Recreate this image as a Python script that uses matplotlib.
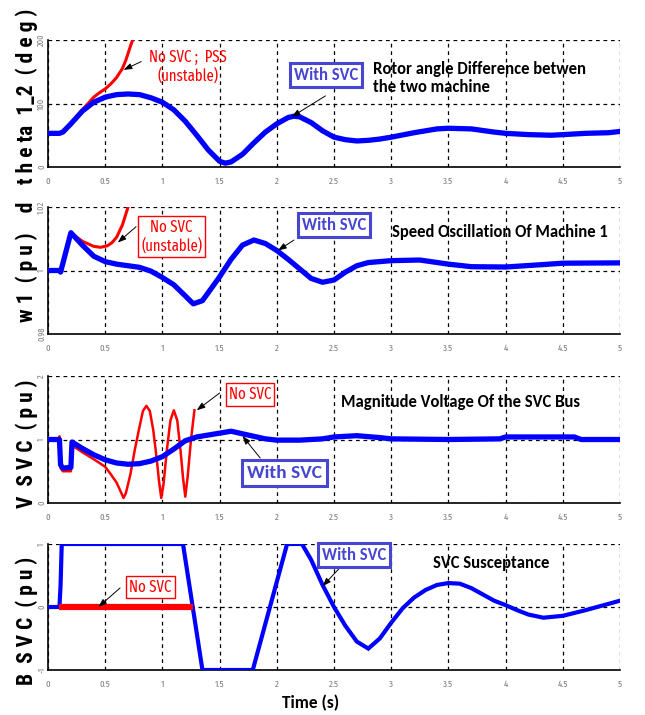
import matplotlib
matplotlib.use("Agg")
import matplotlib.pyplot as plt

# ---------------- data ----------------
# Panel 1: rotor angle difference (deg)
t_theta_svc = [0, 0.1, 0.13, 0.2, 0.3, 0.4, 0.5, 0.6, 0.7, 0.8, 0.9, 1.0, 1.1, 1.2, 1.3, 1.4, 1.5, 1.55,
               1.6, 1.7, 1.8, 1.9, 2.0, 2.1, 2.15, 2.2, 2.3, 2.4, 2.5, 2.6, 2.7, 2.8, 2.9, 3.0, 3.2, 3.4,
               3.5, 3.7, 3.9, 4.0, 4.2, 4.4, 4.5, 4.7, 4.9, 5.0]
theta_svc = [53, 53, 55, 68, 88, 102, 110, 114, 115, 114, 109, 102, 90, 72, 50, 27, 9, 6,
             8, 20, 38, 55, 68, 78, 80, 79, 70, 57, 47, 43, 41, 42, 44, 47, 54, 60,
             61, 60, 55, 53, 51, 50, 51, 53, 54, 56]
t_theta_nosvc = [0.25, 0.3, 0.35, 0.4, 0.45, 0.5, 0.55, 0.6, 0.65, 0.68, 0.72, 0.74]
theta_nosvc = [78, 90, 100, 110, 117, 123, 131, 141, 155, 168, 190, 200]

# Panel 2: speed of machine 1 (pu)
t_w_svc = [0, 0.1, 0.11, 0.2, 0.3, 0.4, 0.5, 0.6, 0.7, 0.8, 0.9, 1.0, 1.1, 1.2, 1.27, 1.35, 1.45, 1.5,
           1.6, 1.7, 1.8, 1.9, 2.0, 2.1, 2.2, 2.3, 2.4, 2.5, 2.6, 2.7, 2.8, 3.0, 3.25, 3.5, 3.7, 4.0,
           4.3, 4.5, 5.0]
w_svc = [1.0, 1.0, 0.9995, 1.0119, 1.008, 1.0045, 1.0028, 1.002, 1.0015, 1.001, 0.9998, 0.9978,
         0.9955, 0.992, 0.9895, 0.9905, 0.9955, 0.998, 1.0035, 1.008, 1.0096, 1.0085, 1.0063,
         1.0035, 1.0005, 0.9975, 0.9963, 0.997, 0.9995, 1.0015, 1.0025, 1.0031, 1.0033, 1.002,
         1.0012, 1.0011, 1.0018, 1.0023, 1.0024]
t_w_nosvc = [0.2, 0.3, 0.4, 0.46, 0.52, 0.56, 0.6, 0.65, 0.7]
w_nosvc = [1.0119, 1.0092, 1.0076, 1.0073, 1.0078, 1.0088, 1.0105, 1.0143, 1.02]

# Panel 3: SVC bus voltage magnitude (pu)
t_v_svc = [0, 0.1, 0.11, 0.13, 0.2, 0.21, 0.3, 0.4, 0.5, 0.6, 0.7, 0.8, 0.9, 1.0, 1.1, 1.2, 1.3,
           1.4, 1.5, 1.6, 1.7, 1.8, 1.9, 2.0, 2.2, 2.4, 2.5, 2.7, 2.9, 3.0, 3.5, 3.95, 4.0, 4.6,
           4.66, 5.0]
v_svc = [1.0, 1.0, 0.6, 0.55, 0.56, 0.96, 0.86, 0.76, 0.68, 0.63, 0.61, 0.62, 0.66, 0.73, 0.85,
         0.98, 1.04, 1.07, 1.1, 1.13, 1.09, 1.05, 1.01, 0.99, 0.99, 1.01, 1.04, 1.06, 1.03, 1.01,
         1.0, 1.01, 1.04, 1.04, 1.0, 1.0]
t_v_nosvc = [0, 0.09, 0.1, 0.11, 0.13, 0.2, 0.21, 0.25, 0.3, 0.4, 0.5, 0.55, 0.6, 0.64, 0.66, 0.68,
             0.72, 0.76, 0.8, 0.83, 0.86, 0.89, 0.92, 0.95, 0.97, 0.99, 1.01, 1.04, 1.07, 1.1,
             1.13, 1.16, 1.18, 1.2, 1.22, 1.25, 1.28]
v_nosvc = [1.0, 1.0, 1.05, 0.55, 0.5, 0.5, 0.9, 0.86, 0.8, 0.69, 0.57, 0.45, 0.32, 0.16, 0.08,
           0.15, 0.45, 0.85, 1.2, 1.45, 1.53, 1.45, 1.15, 0.7, 0.35, 0.08, 0.3, 0.85, 1.3, 1.46,
           1.3, 0.8, 0.4, 0.1, 0.4, 1.0, 1.46]

# Panel 4: SVC susceptance (pu)
t_b_svc = [0, 0.1, 0.11, 0.12, 1.18, 1.35, 1.79, 2.09, 2.22, 2.3, 2.4, 2.5, 2.6, 2.7, 2.8, 2.9,
           3.0, 3.1, 3.2, 3.3, 3.4, 3.5, 3.6, 3.7, 3.8, 3.9, 4.0, 4.1, 4.2, 4.33, 4.5, 4.7, 4.9, 5.0]
b_svc = [0, 0, 0.35, 1, 1, -1, -1, 1, 1, 0.75, 0.35, 0.0, -0.3, -0.55, -0.66, -0.5, -0.25, -0.02,
         0.15, 0.27, 0.35, 0.38, 0.37, 0.3, 0.2, 0.1, 0.03, -0.05, -0.12, -0.17, -0.14, -0.05,
         0.05, 0.1]
t_b_nosvc = [0.1, 1.27]
b_nosvc = [0, 0]

x_ticks = [0, 0.5, 1, 1.5, 2, 2.5, 3, 3.5, 4, 4.5, 5]
x_ticklabels = ["0", "0.5", "1", "1.5", "2", "2.5", "3", "3.5", "4", "4.5", "5"]
y_ticks = [[0, 100, 200], [0.98, 1.0, 1.02], [0, 1, 2], [-1, 0, 1]]
y_ticklabels = [["0", "100", "200"], ["0.98", "1", "1.02"], ["0", "1", "2"], ["-1", "0", "1"]]
y_labels = ["t h e ta  1_2  ( d e g )", "w 1  ( p u )    d", "V  S V C  ( p u )", "B  S V C  ( p u )"]
titles = ["Rotor angle Difference betwen\nthe two machine", "Speed Oscillation Of Machine 1",
          "Magnitude Voltage Of the SVC Bus", "SVC Susceptance"]

# ---------------- style ----------------
NARROW = ["Fira Sans Extra Condensed", "DejaVu Sans"]
YLABF = ["Roboto Condensed", "DejaVu Sans"]
CALF = ["Carlito", "DejaVu Sans"]
BLUE = "#0000ff"
RED = "#ff0000"
BOXBLUE = "#4646d2"

fig = plt.figure(figsize=(6.45, 7.15), dpi=100)
W, H = 645, 715
left_px, right_px = 48, 620
panels_px = [(40, 167), (207, 334), (376, 503), (544, 670)]
axes = []
for top, bot in panels_px:
    ax = fig.add_axes([left_px / W, 1 - bot / H, (right_px - left_px) / W, (bot - top) / H])
    axes.append(ax)

series = [
    (t_theta_svc, theta_svc, t_theta_nosvc, theta_nosvc, 2.2),
    (t_w_svc, w_svc, t_w_nosvc, w_nosvc, 2.2),
    (t_v_svc, v_svc, t_v_nosvc, v_nosvc, 1.8),
    (t_b_svc, b_svc, t_b_nosvc, b_nosvc, 4.5),
]
for i, ax in enumerate(axes):
    ts, ys, tn, yn, rlw = series[i]
    if i == 3:
        ax.plot(ts, ys, color=BLUE, lw=3.0, zorder=3, solid_joinstyle="miter")
        ax.plot(tn, yn, color=RED, lw=rlw, zorder=4, solid_capstyle="butt")
    else:
        ax.plot(tn, yn, color=RED, lw=rlw, zorder=3)
        ax.plot(ts, ys, color=BLUE, lw=3.8, zorder=4)
    ax.set_xlim(0, 5)
    ax.set_ylim(y_ticks[i][0], y_ticks[i][-1])
    ax.set_xticks(x_ticks)
    ax.set_xticklabels(x_ticklabels, family=NARROW, fontsize=7, color="#808080")
    ax.set_yticks(y_ticks[i])
    ax.set_yticklabels(y_ticklabels[i], family=NARROW, fontsize=6.5, color="#808080",
                       rotation=90, va="center")
    ax.tick_params(axis="x", length=0, pad=7)
    ax.tick_params(axis="y", length=0, pad=1.5)
    ax.grid(True, color="black", ls=(0, (3, 3)), lw=0.9)
    for s in ["top", "right"]:
        ax.spines[s].set_visible(False)
    for s in ["left", "bottom"]:
        ax.spines[s].set_linewidth(1.2)

# y labels
ylab_pos = [(27, 96), (27, 262), (27, 444), (27, 621)]
for (x, y), lab in zip(ylab_pos, y_labels):
    fig.text(x / W, 1 - y / H, lab, rotation=90, ha="center", va="center",
             family=YLABF, fontweight="bold", fontsize=15.5)

fig.text(311 / W, 1 - 703 / H, "Time (s)", ha="center", va="center",
         family=CALF, fontweight="bold", fontsize=12.5)

arrow_kw = dict(arrowstyle="-|>,head_length=0.5,head_width=0.18", color="black", lw=0.7,
                shrinkA=0, shrinkB=0)


def arrow(ax, tail_frac, head_data):
    ax.annotate("", xy=head_data, xycoords="data", xytext=tail_frac, textcoords="axes fraction",
                arrowprops=arrow_kw, zorder=6)


def red_label(ax, pos, text, box=True, size=11.5):
    kw = dict(boxstyle="square,pad=0.2", fc="white", ec=RED, lw=1.0) if box else None
    ax.text(pos[0], pos[1], text, transform=ax.transAxes, ha="center", va="center", color=RED,
            family=NARROW, fontsize=size, bbox=kw, zorder=7, linespacing=1.15)


def blue_label(ax, pos, size=12):
    ax.text(pos[0], pos[1], "With SVC", transform=ax.transAxes, ha="center", va="center",
            color=BOXBLUE, family=CALF, fontweight="bold", fontsize=size,
            bbox=dict(boxstyle="square,pad=0.25", fc="white", ec=BOXBLUE, lw=2.2), zorder=7)


def title(ax, pos, text):
    ax.text(pos[0], pos[1], text, transform=ax.transAxes, ha="left", va="center", color="black",
            family=CALF, fontweight="bold", fontsize=12, zorder=7, linespacing=1.2)


# Panel 1
red_label(axes[0], (0.245, 0.79), "No SVC ;  PSS\n(unstable)", box=False, size=11.5)
arrow(axes[0], (0.163, 0.83), (0.66, 153))
blue_label(axes[0], (0.486, 0.724))
arrow(axes[0], (0.485, 0.56), (2.13, 79))
title(axes[0], (0.568, 0.70), titles[0])

# Panel 2
red_label(axes[1], (0.216, 0.77), "No SVC\n(unstable)")
arrow(axes[1], (0.154, 0.845), (0.61, 1.0088))
blue_label(axes[1], (0.50, 0.858))
arrow(axes[1], (0.43, 0.74), (2.01, 1.0063))
title(axes[1], (0.601, 0.80), titles[1])

# Panel 3
red_label(axes[2], (0.353, 0.855), "No SVC")
arrow(axes[2], (0.30, 0.866), (1.30, 1.46))
blue_label(axes[2], (0.413, 0.236), size=14)
arrow(axes[2], (0.371, 0.354), (1.70, 1.055))
title(axes[2], (0.512, 0.795), titles[2])

# Panel 4
red_label(axes[3], (0.179, 0.659), "No SVC")
arrow(axes[3], (0.126, 0.651), (0.44, 0.0))
blue_label(axes[3], (0.535, 0.913))
arrow(axes[3], (0.51, 0.81), (2.40, 0.33))
title(axes[3], (0.673, 0.849), titles[3])

fig.savefig("out.png", dpi=100, facecolor="white")
